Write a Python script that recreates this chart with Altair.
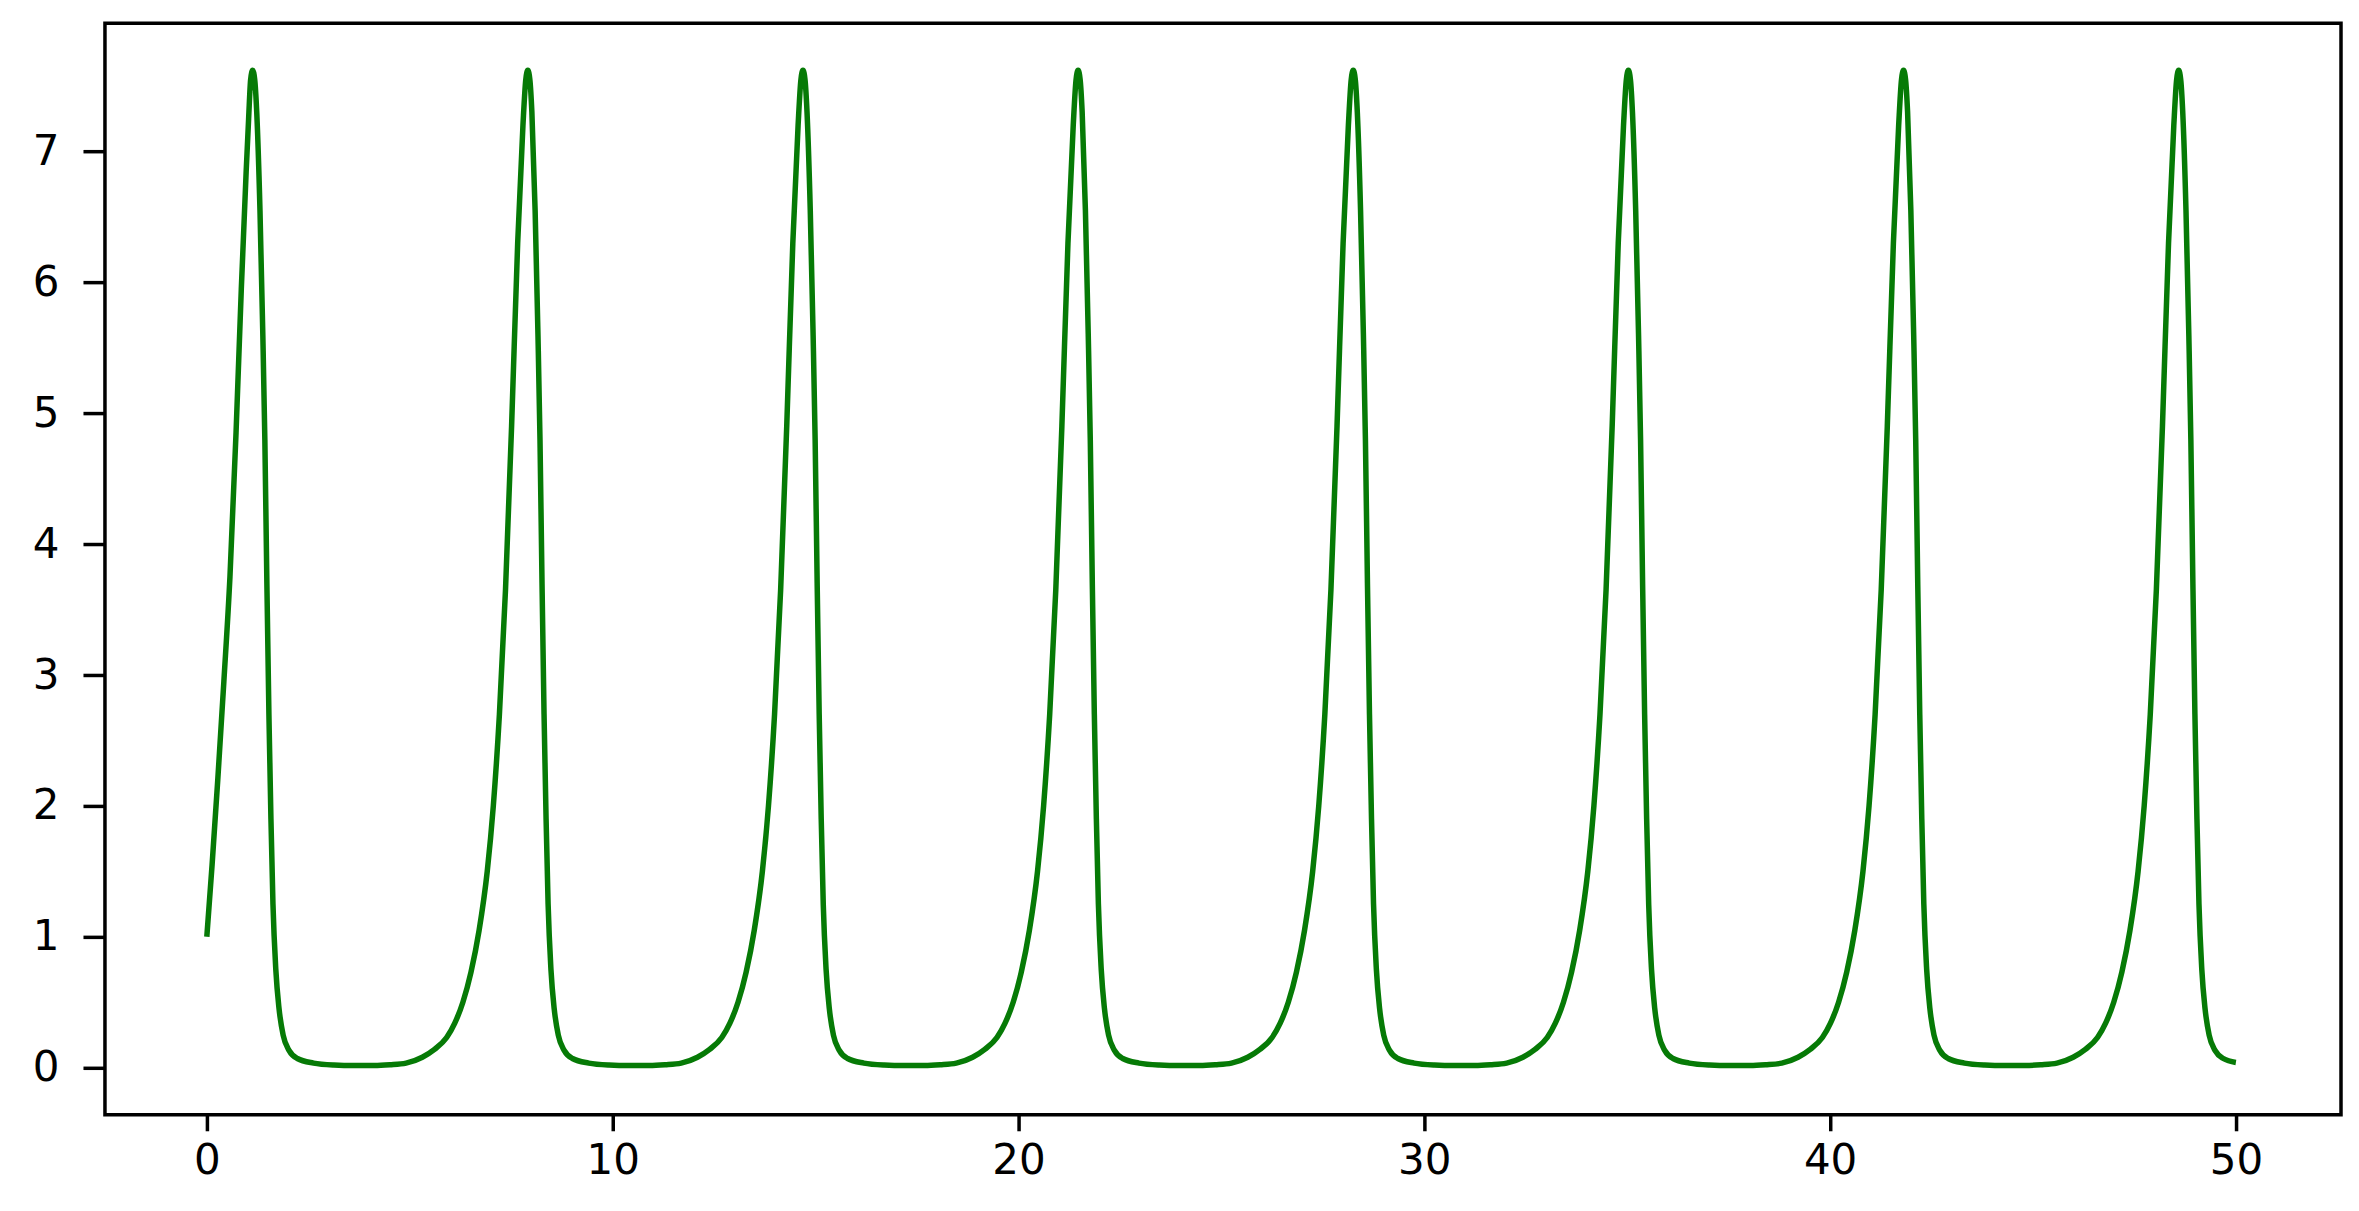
import altair as alt
import pandas as pd

# ---- values ----
cycle1_x = [0.00, 0.13, 0.27, 0.42, 0.57, 0.72, 0.85, 0.97, 1.03, 1.08, 1.13,
            1.18, 1.23, 1.31, 1.38, 1.43, 1.48, 1.53, 1.58, 1.63, 1.70, 1.78, 1.88, 2.03, 2.23, 2.63, 3.13, 3.63, 4.13]
cycle1_y = [1.00, 1.55, 2.20, 2.95, 3.75, 4.85, 5.95, 6.85, 7.25, 7.55, 7.62,
            7.55, 7.30, 6.55, 5.60, 4.80, 3.70, 2.70, 1.90, 1.25, 0.75, 0.45, 0.25, 0.13, 0.07, 0.035, 0.02, 0.016, 0.016]

cycle2_x = [4.51, 4.91, 5.31, 5.61, 5.91, 6.11, 6.31, 6.51, 6.71, 6.91, 7.06, 7.21, 7.36, 7.51, 7.66, 7.79, 7.86, 7.91,
            7.96, 8.01, 8.09, 8.16, 8.21, 8.26, 8.31, 8.36, 8.41, 8.48, 8.56, 8.66, 8.81, 9.01, 9.41, 9.91, 10.41, 10.91]
cycle3_x = [11.29, 11.69, 12.09, 12.39, 12.69, 12.89, 13.09, 13.29, 13.49, 13.69, 13.84, 13.99, 14.14, 14.29, 14.44, 14.57, 14.64, 14.69,
            14.74, 14.79, 14.87, 14.94, 14.99, 15.04, 15.09, 15.14, 15.19, 15.26, 15.34, 15.44, 15.59, 15.79, 16.19, 16.69, 17.19, 17.69]
cycle4_x = [18.07, 18.47, 18.87, 19.17, 19.47, 19.67, 19.87, 20.07, 20.27, 20.47, 20.62, 20.77, 20.92, 21.07, 21.22, 21.35, 21.42, 21.47,
            21.52, 21.57, 21.65, 21.72, 21.77, 21.82, 21.87, 21.92, 21.97, 22.04, 22.12, 22.22, 22.37, 22.57, 22.97, 23.47, 23.97, 24.47]
cycle5_x = [24.85, 25.25, 25.65, 25.95, 26.25, 26.45, 26.65, 26.85, 27.05, 27.25, 27.40, 27.55, 27.70, 27.85, 28.00, 28.13, 28.20, 28.25,
            28.30, 28.35, 28.43, 28.50, 28.55, 28.60, 28.65, 28.70, 28.75, 28.82, 28.90, 29.00, 29.15, 29.35, 29.75, 30.25, 30.75, 31.25]
cycle6_x = [31.63, 32.03, 32.43, 32.73, 33.03, 33.23, 33.43, 33.63, 33.83, 34.03, 34.18, 34.33, 34.48, 34.63, 34.78, 34.91, 34.98, 35.03,
            35.08, 35.13, 35.21, 35.28, 35.33, 35.38, 35.43, 35.48, 35.53, 35.60, 35.68, 35.78, 35.93, 36.13, 36.53, 37.03, 37.53, 38.03]
cycle7_x = [38.41, 38.81, 39.21, 39.51, 39.81, 40.01, 40.21, 40.41, 40.61, 40.81, 40.96, 41.11, 41.26, 41.41, 41.56, 41.69, 41.76, 41.81,
            41.86, 41.91, 41.99, 42.06, 42.11, 42.16, 42.21, 42.26, 42.31, 42.38, 42.46, 42.56, 42.71, 42.91, 43.31, 43.81, 44.31, 44.81]
cycle_y = [0.022, 0.035, 0.08, 0.14, 0.23, 0.34, 0.50, 0.73, 1.05, 1.50, 2.00, 2.70, 3.65, 4.90, 6.30, 7.20, 7.55, 7.62,
           7.55, 7.30, 6.55, 5.60, 4.80, 3.70, 2.70, 1.90, 1.25, 0.75, 0.45, 0.25, 0.13, 0.07, 0.035, 0.02, 0.016, 0.016]

cycle8_x = [45.19, 45.59, 45.99, 46.29, 46.59, 46.79, 46.99, 47.19, 47.39, 47.59, 47.74, 47.89, 48.04, 48.19, 48.34, 48.47, 48.54, 48.59,
            48.64, 48.69, 48.77, 48.84, 48.89, 48.94, 48.99, 49.04, 49.09, 49.16, 49.24, 49.34, 49.49, 49.69, 50.00]
cycle8_y = [0.022, 0.035, 0.08, 0.14, 0.23, 0.34, 0.50, 0.73, 1.05, 1.50, 2.00, 2.70, 3.65, 4.90, 6.30, 7.20, 7.55, 7.62,
            7.55, 7.30, 6.55, 5.60, 4.80, 3.70, 2.70, 1.90, 1.25, 0.75, 0.45, 0.25, 0.13, 0.07, 0.04]

x_ticks = [0, 10, 20, 30, 40, 50]
y_ticks = [0, 1, 2, 3, 4, 5, 6, 7]

xs = cycle1_x + cycle2_x + cycle3_x + cycle4_x + cycle5_x + cycle6_x + cycle7_x + cycle8_x
ys = cycle1_y + cycle_y * 6 + cycle8_y
df = pd.DataFrame({"t": xs, "v": ys})

line = alt.Chart(df).mark_line(color="#067a06", strokeWidth=5.5, interpolate="monotone").encode(
    x=alt.X("t:Q", scale=alt.Scale(domain=[-2.51, 52.59], nice=False, zero=False),
            axis=alt.Axis(values=x_ticks, title=None, grid=False, domain=False,
                          tickSize=16, tickWidth=3.5, tickColor="black",
                          labelFontSize=42, labelFont="DejaVu Sans", labelColor="black",
                          labelPadding=10)),
    y=alt.Y("v:Q", scale=alt.Scale(domain=[-0.36, 7.98], nice=False, zero=False),
            axis=alt.Axis(values=y_ticks, title=None, grid=False, domain=False,
                          tickSize=22, tickWidth=3.5, tickColor="black",
                          labelFontSize=42, labelFont="DejaVu Sans", labelColor="black",
                          labelPadding=24)),
    order="t:Q",
)

chart = line.properties(
    width=2237, height=1092,
    background="white",
    autosize=alt.AutoSizeParams(type="none"),
    padding={"left": 97, "top": 15, "right": 10, "bottom": 80},
).configure_view(stroke="black", strokeWidth=3.5)

chart.save("out.html", embed_options={"renderer": "svg", "actions": False})
